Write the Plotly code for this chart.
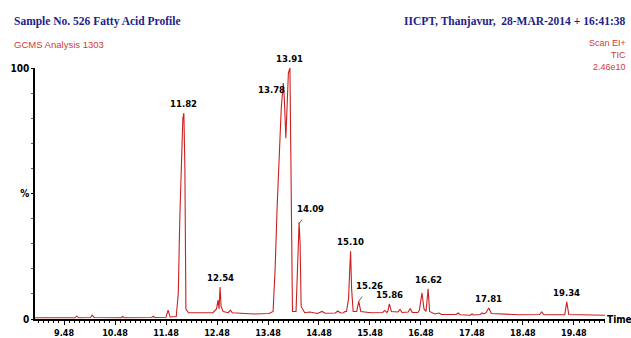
import plotly.graph_objects as go

# Chromatogram (retention time in min, relative intensity %)
times = [8.91, 9.70, 9.73, 9.76, 10.00, 10.03, 10.07, 10.60, 10.63, 10.66,
         11.20, 11.23, 11.26, 11.48, 11.52, 11.56, 11.68, 11.72, 11.75, 11.78,
         11.81, 11.83, 11.85, 11.87, 11.92, 12.40, 12.47, 12.50, 12.52, 12.54,
         12.56, 12.60, 12.70, 12.74, 12.78, 13.20, 13.50, 13.58, 13.62, 13.66,
         13.70, 13.74, 13.78, 13.80, 13.83, 13.86, 13.88, 13.91, 13.93, 13.96,
         14.03, 14.06, 14.09, 14.11, 14.13, 14.20, 14.30, 14.45, 14.54, 14.60,
         14.80, 14.85, 14.90, 14.96, 14.99, 15.02, 15.06, 15.08, 15.10, 15.12,
         15.15, 15.22, 15.26, 15.30, 15.50, 15.73, 15.77, 15.81, 15.83, 15.86,
         15.90, 16.03, 16.07, 16.11, 16.23, 16.27, 16.31, 16.42, 16.45, 16.50,
         16.54, 16.58, 16.62, 16.65, 16.75, 16.84, 16.88, 17.05, 17.17, 17.21,
         17.25, 17.45, 17.48, 17.51, 17.64, 17.68, 17.72, 17.76, 17.81, 17.86,
         18.40, 18.81, 18.85, 18.89, 19.30, 19.34, 19.38, 20.09]
intensity = [0.5, 0.5, 1.2, 0.5, 0.6, 1.5, 0.6, 0.5, 1.0, 0.5,
             0.6, 1.1, 0.6, 0.7, 3.5, 0.8, 1.0, 10, 40, 65,
             80, 82, 60, 4, 2.5, 2.5, 4, 7.5, 4, 12.7,
             5, 3, 2.5, 3.5, 2.5, 2.0, 2.2, 3, 20, 45,
             65, 84, 94, 88, 72, 85, 98, 100, 60, 3,
             3, 20, 38.5, 30, 5, 2.5, 2.8, 2.2, 3.0, 2.3,
             2.4, 3.2, 2.4, 2.5, 3.0, 3, 8, 18, 27, 12,
             3, 3, 7, 3, 2.5, 2.6, 3.4, 2.6, 3.0, 6,
             3, 2.8, 3.8, 2.6, 2.8, 4.2, 2.6, 2.6, 3.6, 10.4,
             4, 3, 12, 3, 2, 2.4, 1.8, 1.8, 1.8, 2.4,
             1.7, 1.5, 2.0, 1.6, 1.8, 2.4, 2.0, 2.6, 4.4, 2.2,
             1.7, 1.8, 2.8, 1.7, 1.7, 6.8, 1.8, 1.5]

# Labelled peaks
peak_rt = [11.82, 12.54, 13.91, 15.10, 15.86, 16.62, 17.81, 19.34]
peak_h = [82, 12.7, 100, 27, 6, 12, 4.4, 6.8]
# Labelled peaks with leader lines (label, tip rt, tip height, offset x, offset y)
lead_lbl = ["13.78", "14.09", "15.26"]
lead_rt = [13.79, 14.09, 15.26]
lead_h = [88, 38, 7]
lead_ax = [-12, 11, 11]
lead_ay = [-9, -15, -16]

x_ticks = [9.48, 10.48, 11.48, 12.48, 13.48, 14.48, 15.48, 16.48, 17.48, 18.48, 19.48]
x_labels = ["9.48", "10.48", "11.48", "12.48", "13.48", "14.48", "15.48", "16.48", "17.48", "18.48", "19.48"]
y_ticks = [0, 50, 100]
y_labels = ["0", "%", "100"]

NARROW = "DejaVu Sans Condensed, Liberation Sans Narrow, Arial Narrow, sans-serif"
SANS = "Liberation Sans, Arial, sans-serif"
SERIF = "Liberation Serif, Times New Roman, serif"
RED = "#cc2020"
BLUE = "#1e1e8a"

fig = go.Figure()
fig.add_trace(go.Scatter(x=times, y=intensity, mode="lines",
                         line=dict(color=RED, width=1.1), hoverinfo="skip",
                         showlegend=False, cliponaxis=False))

W, H = 631, 338
L, R, T, B = 35, 26, 68, 19
pw, ph = W - L - R, H - T - B


def px(xp):
    return (xp - L) / pw


def py(yp):
    return (H - B - yp) / ph


LBL = dict(family=NARROW, size=9.5, color="black", weight="bold")
ann = []
for rt, h in zip(peak_rt, peak_h):
    ann.append(dict(x=rt, y=h, xref="x", yref="y", text=f"{rt:.2f}", showarrow=False,
                    yanchor="bottom", yshift=2, font=LBL))
for lbl, rt, h, ax, ay in zip(lead_lbl, lead_rt, lead_h, lead_ax, lead_ay):
    ann.append(dict(x=rt, y=h, xref="x", yref="y", text=lbl, showarrow=True,
                    arrowhead=0, arrowwidth=0.8, arrowcolor="#444", ax=ax, ay=ay,
                    standoff=0, startstandoff=5, font=LBL))

ann += [
    dict(xref="paper", yref="paper", x=px(12), y=py(22), xanchor="left", yanchor="middle",
         text="Sample No. 526 Fatty Acid Profile", showarrow=False,
         font=dict(family=SERIF, size=11.5, color=BLUE, weight="bold")),
    dict(xref="paper", yref="paper", x=px(12), y=py(44), xanchor="left", yanchor="middle",
         text="GCMS Analysis 1303", showarrow=False,
         font=dict(family=SANS, size=9.5, color="#d03a3a")),
    dict(xref="paper", yref="paper", x=px(628), y=py(22), xanchor="right", yanchor="middle",
         text="IICPT, Thanjavur,  28-MAR-2014 + 16:41:38", showarrow=False,
         font=dict(family=SERIF, size=11.5, color=BLUE, weight="bold")),
    dict(xref="paper", yref="paper", x=px(628), y=py(43), xanchor="right", yanchor="middle",
         text="Scan EI+", showarrow=False, font=dict(family=SANS, size=9, color="#d03a3a")),
    dict(xref="paper", yref="paper", x=px(628), y=py(55), xanchor="right", yanchor="middle",
         text="TIC", showarrow=False, font=dict(family=SANS, size=9, color="#d03a3a")),
    dict(xref="paper", yref="paper", x=px(628), y=py(67), xanchor="right", yanchor="middle",
         text="2.46e10", showarrow=False, font=dict(family=SANS, size=9, color="#d03a3a")),
    dict(xref="paper", yref="paper", x=px(605), y=0, xanchor="left", yanchor="middle",
         text="Time", showarrow=False,
         font=dict(family=NARROW, size=10, color="black", weight="bold")),
]

fig.update_layout(
    width=W, height=H, margin=dict(l=L, r=R, t=T, b=B, pad=0, autoexpand=False),
    plot_bgcolor="white", paper_bgcolor="white", annotations=ann, showlegend=False,
    xaxis=dict(range=[8.91, 20.09], tickvals=x_ticks, ticktext=x_labels,
               automargin=False,
               ticks="outside", ticklen=4, tickwidth=1, tickcolor="black",
               minor=dict(dtick=0.1, tick0=9.48, ticks="outside", ticklen=2.5,
                          tickcolor="black", showgrid=False),
               showline=True, linecolor="black", linewidth=1.5, showgrid=False,
               zeroline=False,
               tickfont=dict(family=NARROW, size=9, color="black", weight="bold")),
    yaxis=dict(range=[0, 100], tickvals=y_ticks, ticktext=y_labels,
               automargin=False,
               ticks="outside", ticklen=2, tickcolor="black",
               minor=dict(dtick=10, ticks="outside", ticklen=2, tickcolor="#666",
                          showgrid=False),
               showline=True, linecolor="black", linewidth=1.5, showgrid=False,
               zeroline=False,
               tickfont=dict(family=NARROW, size=10, color="black", weight="bold")),
)

fig.write_html("out.html", config={"displayModeBar": False},
               post_script="document.body.style.margin='0px';")
